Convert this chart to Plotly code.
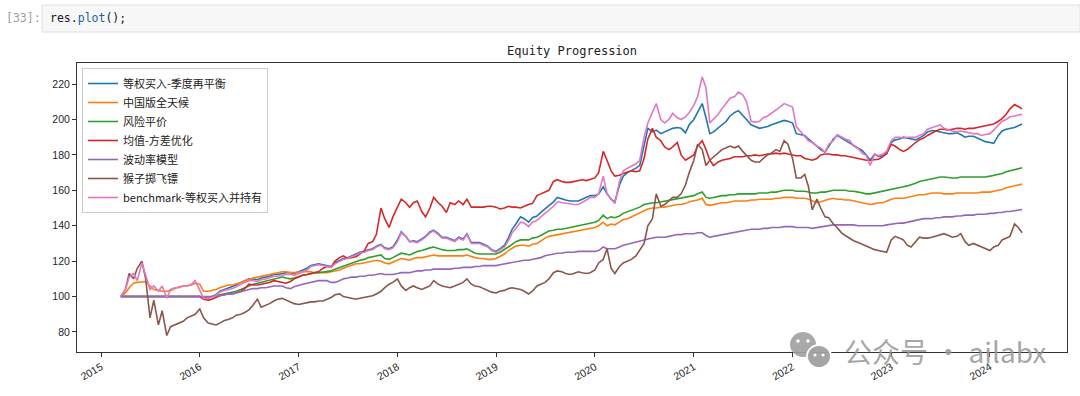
import pandas as pd
import plotly.graph_objects as go

# ---------------- data (semi-monthly readings, 1st & 15th of each month) ----------------
DATES = list(pd.date_range("2015-03-15", "2024-04-15", freq="SMS")) + [pd.Timestamp("2024-04-29")]

SERIES_NAMES = ["等权买入-季度再平衡", "中国版全天候", "风险平价", "均值-方差优化",
                "波动率模型", "猴子掷飞镖", "benchmark-等权买入并持有"]

BLUE = (
    [100, 100, 100, 100, 100, 100, 100, 100, 100, 100, 100, 100, 100, 100, 100, 100, 100, 100, 100]
    + [100, 99.5, 99.5, 100, 101, 103, 104, 105, 105.5, 106.5, 108, 109, 110, 110, 109.5, 110.5, 111, 111.5, 112.5, 112.5, 113, 113.5, 113.5, 113]
    + [114, 115, 116, 117.5, 118, 118.5, 118, 117.5, 117, 119, 120.5, 121.5, 122, 123, 124, 125, 125.5, 126.5, 127, 128.5, 129.5, 127.5, 127, 128]
    + [132, 136.5, 134, 131, 131.5, 131, 132.5, 134, 136.5, 137.5, 135.5, 133.5, 133.5, 132.5, 131.5, 133.5, 132.5, 135.5, 130.5, 130.5, 130.5, 129.5, 128.5, 126.5]
    + [125.5, 127, 129, 133, 138, 141, 145, 144, 142, 144.5, 145.5, 147.5, 149.5, 151, 153.5, 156, 155, 154.5, 154, 154, 154, 155, 156, 157]
    + [157, 158, 162, 158, 155, 153.5, 163, 168, 170, 171, 172.5, 174, 186, 195, 193, 194, 192, 193, 194, 195, 195.5, 195, 192.5, 197]
    + [200, 204, 209, 201, 192, 193, 195, 197, 199, 202, 204, 205, 202, 200, 197, 196, 195, 195.5, 196, 197, 198, 199, 199.5, 199]
    + [198, 192, 191.5, 191, 189, 187, 185, 183, 181.5, 185, 189, 191, 189.5, 188, 186.5, 185.3, 184, 182.5, 180, 177, 180.5, 179, 179.5, 180.5]
    + [187, 188.5, 189, 190, 189.5, 189, 188.5, 189.5, 191, 193, 193.8, 193.5, 193, 192.5, 192, 192, 192.5, 191.5, 190, 190.5, 190.5, 189.5, 188.5, 187.5]
    + [187, 186.5, 191, 193.5, 194.5, 195, 195.5, 196.5, 197.5]
)

ORANGE = (
    [100, 102, 105, 107.5, 108, 108.5, 108.5, 106, 104, 103.5, 103, 103, 103.5, 104.5, 105.5, 106, 106, 106.5, 107.5]
    + [107, 103, 103, 103.5, 104, 105, 106, 106.5, 106.5, 107, 108, 109, 110, 110.5, 111, 111.5, 112, 112.5, 113, 113.5, 114, 114, 113.5, 113.5]
    + [114, 114, 114, 114, 113.5, 113.5, 113.5, 113.5, 114, 114.5, 115, 116, 117, 117.5, 118.5, 118.5, 119, 119.5, 120, 120.5, 120, 119, 118.5, 119.5]
    + [120.5, 121.5, 121, 120.5, 121.5, 122, 122, 122.5, 123, 123.5, 123, 123, 123, 123, 123, 123, 123, 123.5, 122.5, 122, 121.5, 121.5, 121, 121]
    + [121.5, 122.5, 124, 126, 127.5, 128.5, 129, 129, 128.5, 129.5, 130, 131.5, 133, 134, 134.5, 135, 135.5, 135.5, 136, 136.5, 137, 137.5, 138, 138.5]
    + [139, 140, 142, 140, 141, 140.5, 142, 143.5, 144, 145, 146, 147, 148.5, 149.5, 150, 150, 150.5, 150.5, 151, 151.5, 152, 152, 152.5, 153.5]
    + [154, 154.5, 155.5, 152, 151.5, 152, 152.5, 153, 153, 153.5, 154, 154, 154, 154, 154.5, 154.5, 155, 155, 155, 155, 155.5, 155.5, 156, 156]
    + [156, 155.5, 155.5, 155.5, 155, 154, 153, 153.5, 154.5, 155, 155.5, 155, 155, 154.5, 154.5, 154, 153.5, 153, 152.5, 152, 152.5, 153, 153, 154]
    + [155, 155.5, 155.5, 155.5, 156, 156.5, 157, 157.5, 157.5, 158, 158.5, 158.5, 158.5, 158, 158, 158, 158.5, 158.5, 158.5, 158.5, 158.5, 158.5, 159, 159]
    + [159, 159.5, 160, 160.5, 161.5, 162, 162.5, 163, 163.5]
)

GREEN = (
    [100, 100, 100, 100, 100, 100, 100, 100, 100, 100, 100, 100, 100, 100, 100, 100, 100, 100, 100]
    + [100, 99.5, 99.5, 100, 100.5, 101, 101.5, 102, 102.5, 103, 104, 105, 106, 107, 107.5, 108, 109, 109.5, 110, 110.5, 111, 110.5, 110, 110.5]
    + [111.5, 112, 112.5, 113, 113.5, 113.5, 114, 114, 114.5, 115.5, 116.5, 117, 118, 119, 120, 120.5, 121, 122, 122.5, 123, 123.5, 121.5, 121, 122]
    + [123.5, 124.5, 124, 123.5, 124.5, 125.5, 126, 126.5, 127.5, 128, 127, 126.5, 126, 126, 126, 126.5, 126.5, 127, 125.5, 124.5, 124, 124, 124, 124]
    + [124, 125, 126.5, 128, 129.5, 131, 132, 132, 132, 133, 133.5, 134.5, 136, 137, 137.5, 138, 138, 138.5, 139, 139.5, 140, 140.5, 141, 141.5]
    + [142, 143, 146, 144, 145, 144.5, 145.5, 147, 148, 149, 150, 150.5, 152, 152.5, 153, 153, 153.5, 154, 154.5, 155, 155.5, 155.5, 156, 156.5]
    + [157, 158, 159, 156, 155.5, 156, 156.5, 157, 157, 157.5, 157.5, 158, 158, 158, 158, 158, 158.5, 158.5, 158.5, 159, 159, 159.5, 160, 160]
    + [160, 159.5, 159.5, 159.5, 159, 158.5, 158.5, 159, 159, 159.5, 160, 160, 160, 160, 159.5, 159.5, 159, 158.5, 158, 158, 158.5, 159, 159.5, 160]
    + [160.5, 161, 161.5, 162, 162.5, 163, 164, 165, 165.5, 166, 166.5, 167, 167.5, 167.5, 167, 167, 167, 167.5, 167.5, 167.5, 167.5, 167.5, 167.5, 167.5]
    + [168, 168.5, 169, 169.5, 170.5, 171, 172, 172.5, 172.7]
)

RED = (
    [100, 100, 100, 100, 100, 100, 100, 100, 100, 100, 100, 100, 100, 100, 100, 100, 100, 100, 100]
    + [100, 98.5, 98, 98.5, 99.5, 100.5, 101, 101.5, 101.5, 102, 103, 104.5, 107, 106.5, 106.5, 107, 107.5, 108, 109, 108.5, 108, 107.5, 108.5, 110]
    + [111, 112, 112.5, 113, 113.5, 114, 116, 117, 116.5, 120, 122, 123, 121.5, 122, 122.5, 124, 126, 130, 131, 135, 150, 144, 139, 145]
    + [150, 155, 153, 150.5, 153, 154, 148, 145, 150, 156, 153, 151, 147.5, 153, 152, 154, 152, 155, 150.5, 150.5, 150.5, 150.5, 151, 151]
    + [150.5, 149.5, 150, 151, 150.5, 150.5, 150, 151, 152, 152.5, 157, 158, 159, 160, 165, 166, 165, 164.5, 164.5, 165, 165.5, 166, 165.5, 166]
    + [167, 170, 182, 177, 171, 168, 168.5, 169.5, 170.5, 171, 170.5, 171, 178, 189, 195, 190, 188, 184.5, 183, 184.5, 187, 180, 177, 178.5]
    + [180, 185, 188, 183, 177, 174, 176, 177, 177.5, 178, 179, 179, 179, 179.5, 179.5, 180, 179.5, 180, 180.5, 180.5, 181, 180.5, 181, 180.5]
    + [180, 179.5, 179.5, 178, 177.5, 177, 178, 180, 180.5, 180.5, 180, 180, 179.5, 179.5, 179, 178.5, 178, 177.5, 177, 177, 177.5, 177.5, 179, 181]
    + [186, 185, 183, 182, 183, 185, 187, 188.5, 189.5, 191, 192.5, 193.5, 194.5, 194.5, 194, 194.5, 195, 195, 194.5, 195, 195, 195.5, 196, 196.5]
    + [197, 197.5, 199, 200.5, 203, 206, 208.5, 207, 206]
)

PURPLE = (
    [100, 100, 100, 100, 100, 100, 100, 100, 100, 100, 100, 100, 100, 100, 100, 100, 100, 100, 100]
    + [100, 100, 100, 100, 100.5, 100.5, 101, 101.5, 101.5, 102, 102.5, 103, 104, 104.5, 104.5, 105, 105, 105.5, 106, 106, 106, 105, 104.5, 105.5]
    + [106.5, 107, 107.5, 108, 108.5, 109, 109, 109, 108, 108, 109, 110, 110.5, 111, 111, 111.5, 111.5, 112, 112, 112.5, 113, 112.5, 112.5, 112.5]
    + [113, 113.5, 113.5, 113.5, 114, 114.5, 114.5, 115, 115, 115.5, 115.5, 115.5, 115.5, 115.5, 116, 116, 116.5, 116.5, 116.5, 117, 117, 117.5, 117.5, 117.5]
    + [117.5, 118, 118.5, 119, 119.5, 120, 120.5, 120.5, 120.5, 121, 121.5, 122, 123, 123.5, 124, 124.5, 124.5, 125, 125, 125, 125.5, 125.5, 125.5, 125.5]
    + [125.5, 126, 128, 127, 127, 127, 128, 129, 129.5, 130, 130.5, 131, 132, 132.5, 133, 133.5, 133.5, 133.5, 134, 134.5, 135, 135, 135.5, 135.5]
    + [135.5, 136, 136, 134.5, 133.5, 134, 134.5, 135, 135.5, 136, 136.5, 137, 137.5, 137.5, 138, 138, 138, 138.5, 138.5, 139, 139, 139, 139.5, 139.5]
    + [139.5, 139, 139, 139, 139, 138.5, 139, 139, 139.5, 140, 140.5, 140.5, 140.5, 140.5, 140.5, 140.5, 140, 140, 140, 140, 140, 140, 140, 140.5]
    + [141, 141, 141.5, 141.5, 142, 142.5, 143, 143.5, 144, 144, 144, 144.5, 144.5, 145, 145, 145, 145.5, 145.5, 146, 146, 146, 146.5, 146.5, 146.5]
    + [147, 147, 147.5, 147.5, 148, 148, 148.5, 149, 149.2]
)

BROWN = (
    [100, 104, 113, 110, 116, 120, 110, 88, 98, 84, 92, 78, 83, 84, 85, 86, 88, 89, 90]
    + [93, 88, 85, 84.5, 84, 85, 86.5, 87, 88, 89.5, 90, 91, 92.5, 95, 98.5, 94, 95, 96, 97.5, 98.5, 99, 98, 97, 96]
    + [95.5, 96, 96.5, 97, 97, 97.5, 97.5, 98.5, 99.5, 101, 101.5, 100, 99.5, 99, 98.5, 99, 99.5, 100, 100.5, 101.5, 103, 105, 107, 108]
    + [110, 106, 103.5, 105, 106, 105, 104, 105, 106, 109, 107, 106, 105.5, 105, 106, 107, 108, 110, 107, 106, 105.5, 104.5, 103.5, 102.5]
    + [102, 103, 103.5, 104.5, 105, 104.5, 104, 103, 101.5, 103, 106, 107, 108, 110, 113.5, 114.5, 114, 113, 112.5, 113, 114, 113.5, 113, 113.5]
    + [115, 119, 121, 127, 116, 113, 117, 119, 120, 121, 123, 126, 130, 140, 144, 158, 151, 152, 154, 156, 156, 158, 163, 170]
    + [177, 186, 183, 174, 177, 179, 181, 183, 184, 185, 184, 185, 182, 180, 177, 176, 176, 178, 180, 181, 183, 182, 188, 186]
    + [178, 167, 167, 169, 162, 149, 155, 150, 145, 144.5, 141, 139, 136, 134.5, 133, 131.5, 130.5, 129.5, 128.5, 127.5, 126.5, 126, 125.5, 125]
    + [132, 134, 133, 132, 129, 128, 131, 133.5, 133, 133, 133.5, 134, 135, 135.5, 134.5, 133.5, 134, 135.5, 131, 129, 130, 129, 128, 127]
    + [126, 128, 129, 132, 133, 134, 141, 139, 136]
)

PINK = (
    [100, 104, 111, 113, 109, 119, 112, 104, 106, 103, 106, 99, 104, 105, 105, 106, 106, 107, 109]
    + [104, 99, 99, 99.5, 100.5, 102.5, 103.5, 104, 104.5, 105.5, 107, 108, 109, 109, 108.5, 109.5, 110, 110.5, 111.5, 111.5, 112, 112.5, 112.5, 112]
    + [113, 114, 115, 117, 117.5, 118, 117.5, 117, 116.5, 118.5, 120, 121, 121.5, 122.5, 123.5, 124.5, 125, 126, 126.5, 128, 129, 127, 126.5, 127.5]
    + [131, 136, 134, 131, 131, 130.5, 132, 133.5, 136, 137, 135, 133, 133, 132, 131, 133, 132, 135, 130, 130, 130, 129, 128, 126]
    + [125, 126.5, 128, 131.5, 136, 138.5, 142, 141.5, 139.5, 142, 143, 145, 147, 148.5, 151, 153.5, 153, 152.5, 152, 152, 152, 153, 154.5, 156]
    + [156, 158, 168, 158, 155, 152.5, 165, 171, 172.5, 173.5, 175, 177, 190, 198, 204, 209, 200, 198, 200, 203.5, 201, 200, 201.5, 204]
    + [208, 213, 224, 218, 198, 200, 203, 206, 209, 212, 213, 215.5, 214, 210, 199, 198.5, 199, 201, 202, 203.5, 205, 207, 209, 208]
    + [207, 196, 193, 191, 188, 187, 185, 184, 181.5, 186, 188, 191.5, 190, 189, 188, 185, 183.5, 181, 179.7, 174, 180.6, 179.5, 180.5, 182]
    + [188, 190, 190, 189.5, 190, 190, 190, 191, 192, 194.5, 195.5, 196, 197, 195, 194, 193.5, 193, 193.5, 193, 192.5, 192, 192, 191, 191.5]
    + [192, 194, 197, 199, 200, 201.5, 202, 202.5, 203]
)

YEAR_TICKS = ["2015", "2016", "2017", "2018", "2019", "2020", "2021", "2022", "2023", "2024"]
Y_TICKS = [80, 100, 120, 140, 160, 180, 200, 220]

# ---------------- styling ----------------
COLORS = ["#1f77b4", "#ff7f0e", "#2ca02c", "#d62728", "#9467bd", "#8c564b", "#e377c2"]
ALL_SERIES = [BLUE, ORANGE, GREEN, RED, PURPLE, BROWN, PINK]

for s in ALL_SERIES:
    assert len(s) == len(DATES), (len(s), len(DATES))

W, H = 1080, 396
ML, MR, MT, MB = 77, 13, 63, 44
PW, PH = W - ML - MR, H - MT - MB


def px_x(px):
    return (px - ML) / PW


def px_y(py):
    return 1 - (py - MT) / PH


fig = go.Figure()
for i, (name, vals) in enumerate(zip(SERIES_NAMES, ALL_SERIES)):
    fig.add_trace(go.Scatter(
        x=DATES, y=vals, mode="lines", name=name,
        line=dict(color=COLORS[i], width=1.6),
        legendgroup=f"g{i}",
    ))

axis_common = dict(
    showgrid=False, zeroline=False, showline=True, mirror=True,
    linecolor="#333333", linewidth=1, ticks="outside", ticklen=4,
    tickcolor="#333333", tickfont=dict(family="Liberation Sans", size=10.5, color="#262626"),
)

fig.update_layout(
    width=W, height=H,
    margin=dict(l=ML, r=MR, t=MT, b=MB),
    paper_bgcolor="white", plot_bgcolor="white",
    xaxis=dict(type="date", range=["2014-10-04", "2024-10-12"],
               tickvals=[f"{y}-01-01" for y in YEAR_TICKS], ticktext=YEAR_TICKS,
               tickangle=-30, **axis_common),
    yaxis=dict(range=[68.7, 231.9], tickvals=Y_TICKS,
               ticktext=[str(v) for v in Y_TICKS], **axis_common),
    legend=dict(x=px_x(82), y=px_y(68), xanchor="left", yanchor="top",
                bgcolor="rgba(255,255,255,0.85)", bordercolor="#cccccc", borderwidth=1,
                font=dict(family="Noto Sans CJK SC", size=11, color="#222222"),
                tracegroupgap=0, itemwidth=30),
    showlegend=True,
)

annotations = [
    dict(text="Equity Progression", x=0.5, y=1, xref="paper", yref="paper",
         xanchor="center", yanchor="bottom", yshift=3, showarrow=False,
         font=dict(family="DejaVu Sans Mono", size=12, color="#222222")),
    dict(text="[33]:", x=px_x(4), y=px_y(18.5), xref="paper", yref="paper",
         xanchor="left", yanchor="middle", showarrow=False,
         font=dict(family="DejaVu Sans Mono", size=11.5, color="#9e9e9e")),
    dict(text='res.<span style="color:#1d5fa6">plot</span>();', x=px_x(48), y=px_y(18.5),
         xref="paper", yref="paper", xanchor="left", yanchor="middle", showarrow=False,
         font=dict(family="DejaVu Sans Mono", size=11.5, color="#1a1a1a")),
    dict(text="公众号 · ailabx", x=px_x(842), y=px_y(351), xref="paper", yref="paper",
         xanchor="left", yanchor="middle", showarrow=False,
         font=dict(family="Noto Sans CJK SC", size=28, color="rgba(150,150,150,0.85)")),
]
fig.update_layout(annotations=annotations)

shapes = [
    # notebook input cell box
    dict(type="rect", xref="paper", yref="paper", x0=px_x(42), x1=px_x(1080),
         y0=px_y(32), y1=px_y(5), fillcolor="#f7f7f7", line=dict(color="#e0e0e0", width=1),
         layer="below"),
    # watermark icon: two chat bubbles
    dict(type="circle", xref="paper", yref="paper", x0=px_x(790), x1=px_x(816),
         y0=px_y(357), y1=px_y(332), fillcolor="rgba(160,160,160,0.9)", line=dict(width=0)),
    dict(type="circle", xref="paper", yref="paper", x0=px_x(807), x1=px_x(831),
         y0=px_y(368), y1=px_y(345), fillcolor="rgba(160,160,160,0.95)",
         line=dict(color="white", width=2)),
]
for cx, cy, r in [(798, 341, 1.8), (808, 341, 1.8), (815, 355, 1.5), (823, 355, 1.5)]:
    shapes.append(dict(type="circle", xref="paper", yref="paper",
                       x0=px_x(cx - r), x1=px_x(cx + r), y0=px_y(cy + r), y1=px_y(cy - r),
                       fillcolor="white", line=dict(width=0)))
fig.update_layout(shapes=shapes)

fig.write_html(
    "out.html",
    config={"displayModeBar": False},
    post_script="document.body.style.margin='0';document.body.style.padding='0';"
                "document.documentElement.style.overflow='hidden';",
)
